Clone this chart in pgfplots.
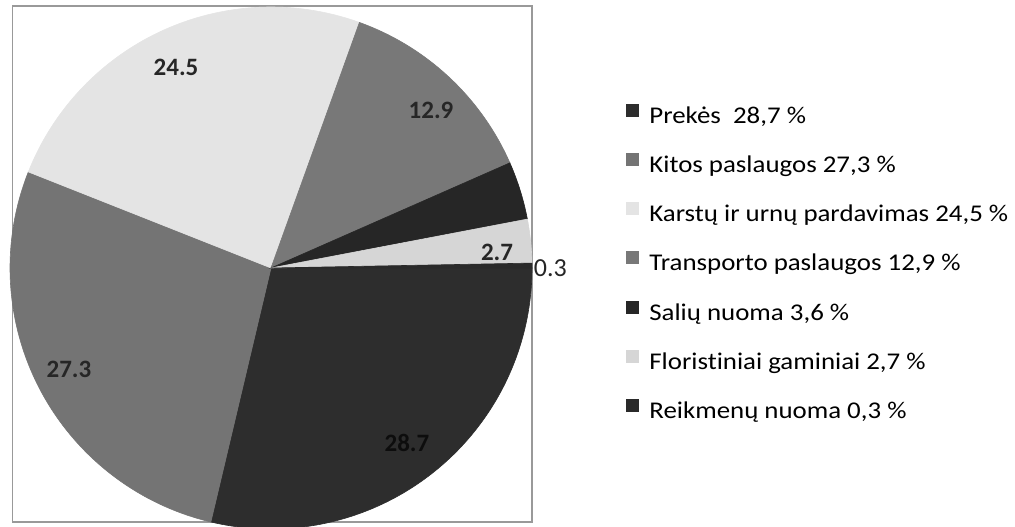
\documentclass[border=0pt]{standalone}
\usepackage{fontspec}
\setmainfont{Carlito}[Ligatures=NoCommon]
\newfontfamily\legfont[FakeStretch=1.12, Ligatures=NoCommon]{Carlito}
\usepackage{pgfplots}
\pgfplotsset{compat=1.18}
\definecolor{cPrekes}{HTML}{2D2D2D}
\definecolor{cKitos}{HTML}{747474}
\definecolor{cKarstu}{HTML}{E4E4E4}
\definecolor{cTransp}{HTML}{787878}
\definecolor{cSaliu}{HTML}{262626}
\definecolor{cFlor}{HTML}{D6D6D6}
\definecolor{cReikm}{HTML}{2A2A2A}
% shares (%)
\def\vA{28.7}\def\vB{27.3}\def\vC{24.5}\def\vD{12.9}\def\vE{3.6}\def\vF{2.7}\def\vG{0.3}
\pgfmathsetmacro\eA{360}
\pgfmathsetmacro\eB{\eA-3.6*\vA}
\pgfmathsetmacro\eC{\eB-3.6*\vB}
\pgfmathsetmacro\eD{\eC-3.6*\vC}
\pgfmathsetmacro\eE{\eD-3.6*\vD}
\pgfmathsetmacro\eF{\eE-3.6*\vE}
\pgfmathsetmacro\eG{\eF-3.6*\vF}
\pgfmathsetmacro\eH{\eG-3.6*\vG}
\begin{document}
\begin{tikzpicture}
\begin{axis}[
  at={(135.5pt,129pt)}, anchor=origin,
  x=130.5pt, y=130.5pt,
  xmin=-0.989, xmax=1.0, ymin=-0.973, ymax=1.004,
  xtick=\empty, ytick=\empty,
  axis line style={draw=black!40, line width=0.6pt},
  clip=false,
  legend cell align=left,
  legend image code/.code={\path[draw=none,fill=none] (0pt,0pt) -- (10.5pt,0pt);\path[#1, draw=none] (0pt,0.3pt) rectangle (6.5pt,6.8pt);},
  legend style={at={(1.181,0.812)}, anchor=north west, draw=none, fill=none,
    font=\legfont\fontsize{12}{14}\selectfont, row sep=10.6pt, inner sep=0pt,
    nodes={inner sep=1pt, text height=9pt, text depth=3pt}},
]
\addplot[fill=cPrekes, draw=cPrekes, line width=0.3pt, domain=\eB:\eA, samples=120] ({cos(x)},{sin(x)}) -- (axis cs:0,0) -- cycle;
\addlegendentry{Prekės\ \ 28,7 \%}
\addplot[fill=cKitos, draw=cKitos, line width=0.3pt, domain=\eC:\eB, samples=120] ({cos(x)},{sin(x)}) -- (axis cs:0,0) -- cycle;
\addlegendentry{Kitos paslaugos 27,3 \%}
\addplot[fill=cKarstu, draw=cKarstu, line width=0.3pt, domain=\eD:\eC, samples=120] ({cos(x)},{sin(x)}) -- (axis cs:0,0) -- cycle;
\addlegendentry{Karstų ir urnų pardavimas 24,5 \%}
\addplot[fill=cTransp, draw=cTransp, line width=0.3pt, domain=\eE:\eD, samples=80] ({cos(x)},{sin(x)}) -- (axis cs:0,0) -- cycle;
\addlegendentry{Transporto paslaugos 12,9 \%}
\addplot[fill=cSaliu, draw=cSaliu, line width=0.3pt, domain=\eF:\eE, samples=30] ({cos(x)},{sin(x)}) -- (axis cs:0,0) -- cycle;
\addlegendentry{Salių nuoma 3,6 \%}
\addplot[fill=cFlor, draw=cFlor, line width=0.3pt, domain=\eG:\eF, samples=30] ({cos(x)},{sin(x)}) -- (axis cs:0,0) -- cycle;
\addlegendentry{Floristiniai gaminiai 2,7 \%}
\addplot[fill=cReikm, draw=cReikm, line width=0.3pt, domain=\eH:\eG, samples=10] ({cos(x)},{sin(x)}) -- (axis cs:0,0) -- cycle;
\addlegendentry{Reikmenų nuoma 0,3 \%}
\begin{scope}[every node/.style={font=\fontsize{12.5}{14}\selectfont\bfseries, text=black!85}]
\node at (axis cs:-0.364,0.770) {24.5};
\node at (axis cs:0.613,0.605) {12.9};
\node at (axis cs:0.866,0.061) {2.7};
\node[font=\fontsize{13}{14}\selectfont] at (axis cs:1.07,0.0) {0.3};
\node at (axis cs:-0.774,-0.387) {27.3};
\node[text=black!95] at (axis cs:0.521,-0.670) {28.7};
\end{scope}
\end{axis}
\pgfresetboundingbox
\path[use as bounding box] (0,0) rectangle (507.5pt,263pt);
\end{tikzpicture}
\end{document}
